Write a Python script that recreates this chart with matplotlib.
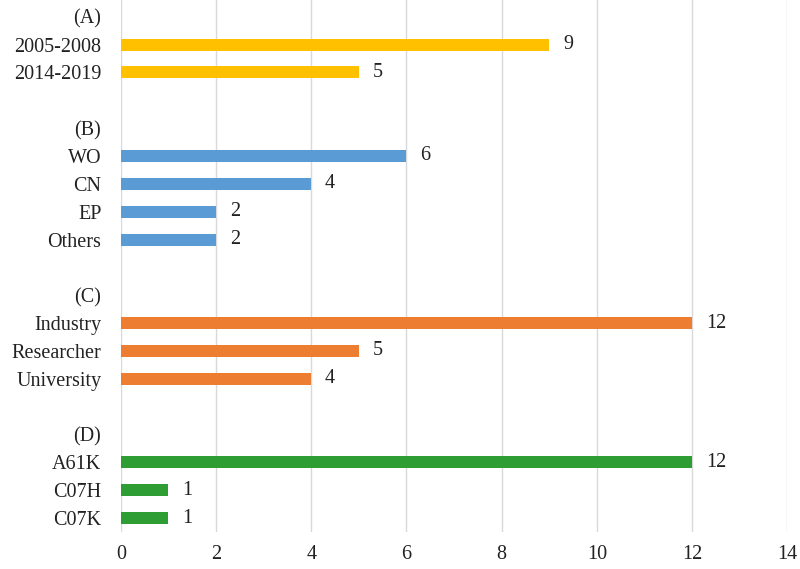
import matplotlib.pyplot as plt

groups = ["(A)", "(B)", "(C)", "(D)"]
group_items = [
    ["2005-2008", "2014-2019"],
    ["WO", "CN", "EP", "Others"],
    ["Industry", "Researcher", "University"],
    ["A61K", "C07H", "C07K"],
]
group_values = [
    [9, 5],
    [6, 4, 2, 2],
    [12, 5, 4],
    [12, 1, 1],
]
group_colors = ["#FFC000", "#5B9BD5", "#ED7D31", "#2E9E34"]

plt.rcParams['font.family'] = ['Liberation Serif', 'DejaVu Serif']
fs = 14.5

fig = plt.figure(figsize=(8, 5.69), dpi=100)
ax = fig.add_axes([0.151, 0.065, 0.833, 0.935])

labels = []
row = 0
for g, items, vals, col in zip(groups, group_items, group_values, group_colors):
    labels.append((row, g))
    row += 1
    for name, v in zip(items, vals):
        ax.barh(row, v, height=0.43, color=col, zorder=3)
        ax.annotate(str(v), xy=(v, row), xytext=(10, 0), textcoords='offset points',
                    va='center', ha='left', fontsize=fs, color='#222222')
        labels.append((row, name))
        row += 1
    row += 1  # blank spacer row

ax.set_yticks([r for r, _ in labels])
ax.set_yticklabels([t for _, t in labels], fontsize=fs, color='#222222')
ax.set_ylim(row - 1.5, -0.6)
ax.set_xlim(0, 14)
ax.set_xticks(range(0, 15, 2))
ax.tick_params(axis='x', labelsize=fs, colors='#222222', length=0, pad=9)
ax.tick_params(axis='y', length=0, pad=14)
ax.grid(axis='x', color='#D9D9D9', linewidth=1, zorder=0)
for s in ax.spines.values():
    s.set_visible(False)

fig.savefig("out.png", dpi=100)
